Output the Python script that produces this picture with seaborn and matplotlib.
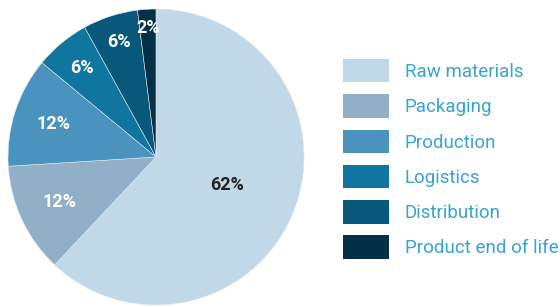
import matplotlib.pyplot as plt
import seaborn as sns
import numpy as np
from matplotlib.patches import Patch

categories = ["Raw materials", "Packaging", "Production", "Logistics",
              "Distribution", "Product end of life"]
shares = [62, 12, 12, 6, 6, 2]
pct_labels = ["62%", "12%", "12%", "6%", "6%", "2%"]

colors = ["#c0d8e7", "#91b0c8", "#4b93bf", "#11769f", "#07587b", "#032f47"]
label_colors = ["#222222", "white", "white", "white", "white", "white"]
label_dist = [0.52, 0.72, 0.73, 0.78, 0.82, 0.87]

sns.set_theme(style="white")
plt.rcParams["font.family"] = ["Roboto", "DejaVu Sans"]

fig = plt.figure(figsize=(5.6, 3.07), dpi=100)
ax = fig.add_axes([7 / 560, 2 / 307, 298 / 560, 296 / 307])

wedges, _ = ax.pie(shares, colors=colors, startangle=90, counterclock=False,
                   wedgeprops=dict(linewidth=0.4, edgecolor="#dfe9f0"))

for w, lab, c, d in zip(wedges, pct_labels, label_colors, label_dist):
    ang = np.deg2rad((w.theta1 + w.theta2) / 2)
    ax.text(d * np.cos(ang), d * np.sin(ang), lab, ha="center", va="center",
            color=c, fontsize=13, fontweight="bold")
ax.set_xlim(-1, 1)
ax.set_ylim(-1, 1)
ax.set_aspect("equal")

handles = [Patch(facecolor=c, edgecolor="none") for c in colors]
fig.legend(handles, categories, loc="upper left",
           bbox_to_anchor=(343 / 560, 1 - 59 / 307), frameon=False,
           fontsize=13.5, labelcolor="#3aa3cf", handlelength=2.45,
           handleheight=1.55, labelspacing=0.63, handletextpad=0.85,
           borderaxespad=0, borderpad=0)

fig.savefig("out.png", dpi=100)
